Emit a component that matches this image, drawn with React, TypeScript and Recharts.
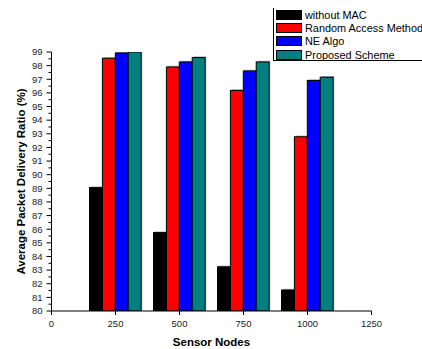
import { BarChart, Bar, XAxis, YAxis } from 'recharts';

const nodes = [250, 500, 750, 1000];
const withoutMac = [89.05, 85.75, 83.24, 81.54];
const randomAccess = [98.54, 97.9, 96.18, 92.78];
const neAlgo = [98.93, 98.27, 97.61, 96.91];
const proposed = [99.0, 98.59, 98.27, 97.15];

const seriesNames = ['without MAC', 'Random Access Method', 'NE Algo', 'Proposed Scheme'];
const seriesColors = ['#000000', '#ff0000', '#0000ff', '#008080'];

const xMajorTicks = [0, 250, 500, 750, 1000, 1250];
const xMinorTicks = [125, 375, 625, 875, 1125];
const yMajorTicks = [80, 81, 82, 83, 84, 85, 86, 87, 88, 89, 90, 91, 92, 93, 94, 95, 96, 97, 98, 99];
// half-step minor ticks between the labelled ones
const yAllTicks = yMajorTicks.flatMap((v, i) => (i < yMajorTicks.length - 1 ? [v, v + 0.5] : [v]));

const data = nodes.map((n, i) => ({
  nodes: n,
  withoutMac: withoutMac[i],
  randomAccess: randomAccess[i],
  neAlgo: neAlgo[i],
  proposed: proposed[i],
}));

const keys = ['withoutMac', 'randomAccess', 'neAlgo', 'proposed'];
const FONT = 'Arial, "Liberation Sans", sans-serif';

const YTick = (props: any) => {
  const { x, y, payload } = props;
  const v = payload.value;
  const major = Number.isInteger(v);
  const ax = x + 7;
  return (
    <g>
      <line x1={ax - (major ? 5 : 3)} x2={ax} y1={y} y2={y} stroke="#000" />
      {major && (
        <text x={ax - 9} y={y} dy={3.3} textAnchor="end" fontSize={9.5} fontFamily={FONT} fill="#222">
          {v}
        </text>
      )}
    </g>
  );
};

const XTick = (props: any) => {
  const { x, y, payload } = props;
  const ay = y - 7;
  return (
    <g>
      <line x1={x} x2={x} y1={ay} y2={ay + 4} stroke="#000" />
      <text x={x} y={ay + 15.5} textAnchor="middle" fontSize={9.5} fontFamily={FONT} fill="#222">
        {payload.value}
      </text>
    </g>
  );
};

const MinorXTick = (props: any) => {
  const { x, y } = props;
  const ay = y - 7;
  return <line x1={x} x2={x} y1={ay} y2={ay + 2.5} stroke="#000" />;
};

// bar with the light grey drop edge seen on the original plot
const ShadowBar = (props: any) => {
  const { x, y, width, height, fill } = props;
  if (!height || height <= 0) return null;
  return (
    <g>
      <rect x={x + 1.2} y={y - 1.2} width={width} height={height} fill="#b0b0b0" />
      <rect x={x} y={y} width={width} height={height} fill={fill} stroke="#000" strokeWidth={1} />
    </g>
  );
};

export default function App() {
  return (
    <div style={{ position: 'absolute', left: 0, top: 0, width: 422, height: 349, background: '#fff' }}>
      <BarChart
        width={422}
        height={349}
        data={data}
        margin={{ top: 52, right: 50.5, left: 0, bottom: 0 }}
        barGap={0}
        barSize={12.9}
      >
        <XAxis
          dataKey="nodes"
          type="number"
          domain={[0, 1250]}
          ticks={xMajorTicks}
          interval={0}
          height={38}
          tickSize={5}
          tickMargin={2}
          tickLine={false}
          tick={<XTick />}
          axisLine={{ stroke: '#000' }}
          label={{
            value: 'Sensor Nodes',
            position: 'insideBottom',
            offset: 3,
            style: { fontFamily: FONT, fontSize: 11.5, fontWeight: 'bold', fill: '#000' },
          }}
        />
        <XAxis
          xAxisId="minor"
          dataKey="nodes"
          type="number"
          domain={[0, 1250]}
          ticks={xMinorTicks}
          interval={0}
          height={0}
          tickSize={5}
          tickMargin={2}
          tickLine={false}
          axisLine={false}
          tick={<MinorXTick />}
        />
        <YAxis
          type="number"
          domain={[80, 99]}
          ticks={yAllTicks}
          interval={0}
          width={51.5}
          tickSize={5}
          tickMargin={2}
          tickLine={false}
          tick={<YTick />}
          axisLine={{ stroke: '#000' }}
          allowDataOverflow
          label={{
            value: 'Average Packet Delivery Ratio (%)',
            angle: -90,
            position: 'center',
            dx: -4.5,
            style: { fontFamily: FONT, fontSize: 11.5, fontWeight: 'bold', fill: '#000' },
          }}
        />
        {keys.map((k, i) => (
          <Bar
            key={k}
            dataKey={k}
            name={seriesNames[i]}
            fill={seriesColors[i]}
            shape={<ShadowBar />}
            isAnimationActive={false}
          />
        ))}
      </BarChart>
      <div
        style={{
          position: 'absolute',
          left: 273,
          top: 8,
          width: 149,
          height: 53,
          borderLeft: '1px solid #000',
          borderBottom: '1px solid #000',
          fontFamily: FONT,
          fontSize: 10.9,
          color: '#000',
          boxSizing: 'border-box',
          paddingTop: 0,
        }}
      >
        {seriesNames.map((name, i) => (
          <div key={name} style={{ display: 'flex', alignItems: 'center', height: 13.3, marginLeft: 2 }}>
            <span
              style={{
                display: 'inline-block',
                width: 24,
                height: 8,
                background: seriesColors[i],
                border: '1px solid #000',
                marginRight: 3,
                flexShrink: 0,
              }}
            />
            <span style={{ whiteSpace: 'nowrap', lineHeight: '12px' }}>{name}</span>
          </div>
        ))}
      </div>
    </div>
  );
}
